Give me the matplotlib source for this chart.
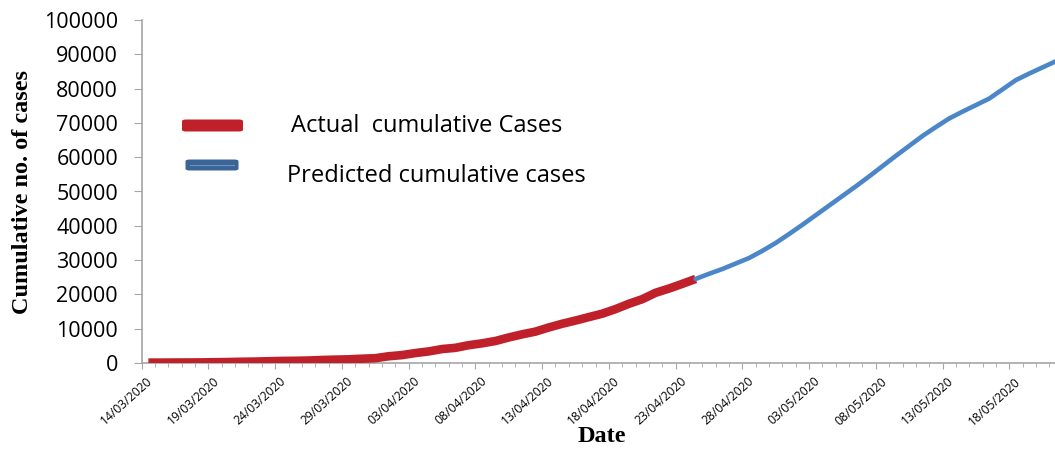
import numpy as np
import pandas as pd
import matplotlib
matplotlib.use("Agg")
import matplotlib.pyplot as plt
from matplotlib.patches import FancyBboxPatch
from matplotlib.lines import Line2D

# dates on the category axis (one per day)
dates = pd.date_range("2020-03-14", "2020-05-21", freq="D")
date_labels = [d.strftime("%d/%m/%Y") for d in dates]

# actual cumulative cases, 14/03 .. 24/04
actual = [107, 114, 137, 151, 173, 223, 283, 360, 415, 519, 606, 649, 724, 873,
          979, 1071, 1251, 1397, 1965, 2301, 2902, 3374, 4067, 4421, 5194, 5734,
          6412, 7447, 8356, 9152, 10363, 11439, 12380, 13387, 14378, 15712,
          17265, 18601, 20471, 21700, 23077, 24506]

# predicted cumulative cases, 24/04 .. 21/05
predicted = [24506, 26000, 27400, 29000, 30600, 32700, 35000, 37600, 40300,
             43100, 45900, 48700, 51500, 54400, 57400, 60400, 63300, 66200,
             68800, 71300, 73300, 75200, 77100, 79800, 82500, 84400, 86200, 88000]

yticks = [0, 10000, 20000, 30000, 40000, 50000, 60000, 70000, 80000, 90000, 100000]

fig = plt.figure(figsize=(10.55, 4.51), dpi=100)
ax = fig.add_axes([141.7 / 1055, 1 - 363 / 451, 1 - 141.7 / 1055, (363 - 20) / 451])

x_act = np.arange(len(actual))
x_pred = np.arange(len(actual) - 1, len(actual) - 1 + len(predicted))

ax.plot(x_act, actual, color="#C0202A", lw=6.2, solid_capstyle="butt",
        solid_joinstyle="round", zorder=3)
ax.plot(x_pred, predicted, color="#4A86C8", lw=3.3, solid_capstyle="round", zorder=4)

ax.set_ylim(0, 100000)
ax.set_xlim(-0.5, -0.5 + (1055 - 141.7) / 13.348)
ax.set_yticks(yticks)
ax.set_yticklabels([str(v) for v in yticks], fontsize=15.5, family="Open Sans")

# date labels every 5 days, drawn as annotations under the tick marks
major = np.arange(0, len(dates), 5)
ax.set_xticks(major - 0.5)
ax.set_xticklabels([])
ax.set_xticks(np.arange(len(dates)) - 0.5, minor=True)
for i in major:
    ax.annotate(date_labels[i], xy=(i - 0.5, 0), xycoords=("data", "axes fraction"),
                xytext=(3.5, -8.5), textcoords="offset points", fontsize=8.7,
                family="Open Sans", rotation=42, ha="right", va="top",
                rotation_mode="anchor", annotation_clip=False)

for s in ["top", "right"]:
    ax.spines[s].set_visible(False)
for s in ["left", "bottom"]:
    ax.spines[s].set_color("#A6A6A6")
    ax.spines[s].set_linewidth(1.2)
ax.tick_params(axis="y", which="major", length=6, color="#A6A6A6", pad=11)
ax.tick_params(axis="x", which="major", length=4, color="#A6A6A6", pad=2)
ax.tick_params(axis="x", which="minor", length=3, color="#A6A6A6")

ax.set_ylabel("Cumulative no. of cases", family="Liberation Serif", fontweight="bold",
              fontsize=17.5, va="center")
ax.yaxis.set_label_coords(-(141.7 - 23) / (1055 - 141.7), (363 - 191.5) / 343)
ax.set_xlabel("Date", family="Liberation Serif", fontweight="bold", fontsize=17.5,
              va="center")
ax.xaxis.set_label_coords((602 - 141.7) / (1055 - 141.7), -(437 - 363) / 343)

# manual legend
W, H = 1055.0, 451.0
red_box = FancyBboxPatch((182 / W, 1 - 131.5 / H), 61 / W, 12 / H,
                         boxstyle="round,pad=0,rounding_size=0.004",
                         transform=fig.transFigure, fc="#C0202A", ec="none")
blue_box = FancyBboxPatch((185.5 / W, 1 - 170.5 / H), 53 / W, 11 / H,
                          boxstyle="round,pad=0,rounding_size=0.004",
                          transform=fig.transFigure, fc="#3B6497", ec="none")
fig.add_artist(red_box)
fig.add_artist(blue_box)
fig.add_artist(Line2D([190 / W, 234 / W], [1 - 165 / H, 1 - 165 / H],
                      transform=fig.transFigure, color="#6C93C4", lw=0.8))
fig.text(291 / W, 1 - 132 / H, "Actual  cumulative Cases", fontsize=17,
         family="Open Sans", va="baseline", ha="left")
fig.text(287 / W, 1 - 181.5 / H, "Predicted cumulative cases", fontsize=17,
         family="Open Sans", va="baseline", ha="left")

fig.savefig("out.png", dpi=100)
